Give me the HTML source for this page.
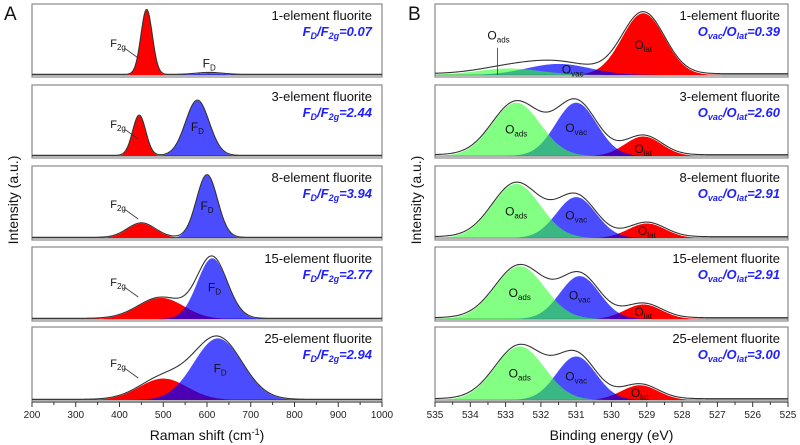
<!DOCTYPE html>
<html><head><meta charset="utf-8"><style>
html,body{margin:0;padding:0;background:#fff;}
svg{display:block;font-family:"Liberation Sans",Arial,sans-serif;}
</style></head><body>
<svg id="chart" width="800" height="445" viewBox="0 0 800 445" xmlns="http://www.w3.org/2000/svg"></svg>
<script>
// ---- Panel A data (Raman) ----
const ramanTicks = [200,300,400,500,600,700,800,900,1000];
const sampleNames = ["1-element fluorite","3-element fluorite","8-element fluorite","15-element fluorite","25-element fluorite"];
const fdRatios = ["0.07","2.44","3.94","2.77","2.94"];
const f2gCenters = [462,445,450,495,500];
const f2gWidths = [13,15,32,52,55];
const f2gAmps = [1.0,0.62,0.22,0.32,0.32];
const fdCenters = [605,578,600,612,625];
const fdWidths = [30,27,24,34,55];
const fdAmps = [0.03,0.85,0.95,0.92,0.92];
// ---- Panel B data (XPS) ----
const xpsTicks = [535,534,533,532,531,530,529,528,527,526,525];
const ovacRatios = ["0.39","2.60","2.91","2.91","3.00"];
const adsCenters = [532.9,532.7,532.7,532.6,532.6];
const adsWidths = [0.9,0.68,0.68,0.7,0.7];
const adsAmps = [0.1,0.82,0.82,0.8,0.8];
const vacCenters = [531.5,531.0,531.0,530.9,531.0];
const vacWidths = [0.9,0.58,0.56,0.56,0.56];
const vacAmps = [0.17,0.82,0.62,0.65,0.65];
const latCenters = [529.1,529.1,529.0,529.1,529.2];
const latWidths = [0.6,0.52,0.52,0.52,0.52];
const latAmps = [0.95,0.3,0.22,0.22,0.22];

const NS="http://www.w3.org/2000/svg";
const svg=document.getElementById('chart');
function mk(tag,attrs,parent){const e=document.createElementNS(NS,tag);for(const k in attrs)e.setAttribute(k,attrs[k]);(parent||svg).appendChild(e);return e;}
const tops=[4,85,166,247,327], bases=[75,156,238,319,400];
function gauss(x,c,s,a){return a*Math.exp(-0.5*((x-c)/s)**2);}
const A={x0:32,x1:382,d0:200,d1:1000};
const B={x0:435,x1:788,d0:535,d1:525};
function sx(P,v){return P.x0+(v-P.d0)/(P.d1-P.d0)*(P.x1-P.x0);}
function yv(i,v){return bases[i]-v*(bases[i]-tops[i]-6);}
function area(P,i,fn,fill,op,name){
  let d=`M${P.x0},${bases[i]}`;
  for(let px=P.x0;px<=P.x1;px+=1){const v=P.d0+(px-P.x0)/(P.x1-P.x0)*(P.d1-P.d0);d+=`L${px},${yv(i,fn(v)).toFixed(2)}`;}
  d+=`L${P.x1},${bases[i]}Z`;
  const p=mk('path',{d:d,fill:fill,'fill-opacity':op});
  
  
}
function line(P,i,fn,name){
  let d='';
  for(let px=P.x0;px<=P.x1;px+=1){const v=P.d0+(px-P.x0)/(P.x1-P.x0)*(P.d1-P.d0);d+=(d?'L':'M')+px+','+yv(i,fn(v)).toFixed(2);}
  const p=mk('path',{d:d,fill:'none',stroke:'#333','stroke-width':1.1});
  
  
}
function txt(x,y,s,attrs,name){const t=mk('text',Object.assign({x:x,y:y},attrs));t.innerHTML=s;return t;}
function box(P,i,name){const r=mk('rect',{x:P.x0,y:tops[i],width:P.x1-P.x0,height:bases[i]+2-tops[i],fill:'none',stroke:'#888','stroke-width':1.2});
 const l=mk('line',{x1:P.x0,x2:P.x1,y1:bases[i],y2:bases[i],stroke:'#666','stroke-width':1});}
function axis(P,ticks,title,name){
  const l=mk('line',{x1:P.x0,x2:P.x1,y1:402,y2:402,stroke:'#555','stroke-width':1.2});
  ticks.forEach((t,k)=>{const x=sx(P,t);mk('line',{x1:x,x2:x,y1:402,y2:407,stroke:'#333'});
    if(k<ticks.length-1){const xm=sx(P,(t+ticks[k+1])/2);mk('line',{x1:xm,x2:xm,y1:402,y2:405,stroke:'#333'});}
    txt(x,418,t,{'font-size':10,'text-anchor':'middle',fill:'#222'},name+'-tick-label');});
  txt((P.x0+P.x1)/2,440,title,{'font-size':14,'text-anchor':'middle',fill:'#111'},name+'-title');
}
// Panel A
txt(4,20,'A',{'font-size':19,fill:'#111'},'panel-a-label');
txt(18,200,'Intensity (a.u.)',{'font-size':14,'text-anchor':'middle',fill:'#111',transform:'rotate(-90 18 200)'},'y-axis-title-a');
for(let i=0;i<5;i++){
  box(A,i,'raman-panel-frame');
  const fr=v=>gauss(v,f2gCenters[i],f2gWidths[i],f2gAmps[i]);
  const fb=v=>gauss(v,fdCenters[i],fdWidths[i],fdAmps[i]);
  area(A,i,fr,'#ff0000',1,'f2g-peak');
  area(A,i,fb,'#0000ff',0.7,'fd-peak');
  line(A,i,v=>fr(v)+fb(v)+0.01,'envelope');
  txt(372,tops[i]+16,sampleNames[i],{'font-size':13,'text-anchor':'end',fill:'#111'},'sample-name');
  txt(372,tops[i]+32,'F<tspan font-size="9" dy="3">D</tspan><tspan dy="-3">/F</tspan><tspan font-size="9" dy="3">2g</tspan><tspan dy="-3">='+fdRatios[i]+'</tspan>',{'font-size':13,'text-anchor':'end',fill:'#2020ff','font-weight':'bold','font-style':'italic'},'fd-f2g-ratio');
  const fx=sx(A,420), fy=bases[i]-(i<2?20:i==2?22:25);
  txt(fx-18,fy-8,'F<tspan font-size="8" dy="3">2g</tspan>',{'font-size':11,fill:'#111'},'f2g-label');
  mk('line',{x1:fx-4,y1:fy-7,x2:fx+10,y2:fy+3,stroke:'#333','stroke-width':0.8});
  const dy=i==0?yv(i,0.1):yv(i,fdAmps[i]*0.45);
  txt(sx(A,fdCenters[i]+(i>2?5:0)),dy+ (i==0?-1:0),'F<tspan font-size="8" dy="3">D</tspan>',{'font-size':12,'text-anchor':'middle',fill:'#111'},'fd-label');
}
axis(A,ramanTicks,'Raman shift (cm<tspan font-size="9" dy="-5">-1</tspan><tspan dy="5">)</tspan>','x-axis-a');
// Panel B
txt(408,20,'B',{'font-size':19,fill:'#111'},'panel-b-label');
txt(421,200,'Intensity (a.u.)',{'font-size':14,'text-anchor':'middle',fill:'#111',transform:'rotate(-90 421 200)'},'y-axis-title-b');
for(let i=0;i<5;i++){
  box(B,i,'xps-panel-frame');
  const fa=v=>gauss(v,adsCenters[i],adsWidths[i],adsAmps[i]);
  const fv=v=>gauss(v,vacCenters[i],vacWidths[i],vacAmps[i]);
  const fl=v=>gauss(v,latCenters[i],latWidths[i],latAmps[i]);
  area(B,i,fl,'#ff0000',1,'olat-peak');
  area(B,i,fv,'#0000ff',0.7,'ovac-peak');
  area(B,i,fa,'#30ff30',0.6,'oads-peak');
  line(B,i,v=>fa(v)+fv(v)+fl(v)+0.02,'envelope');
  txt(780,tops[i]+16,sampleNames[i],{'font-size':13,'text-anchor':'end',fill:'#111'},'sample-name');
  txt(780,tops[i]+32,'O<tspan font-size="9" dy="3">vac</tspan><tspan dy="-3">/O</tspan><tspan font-size="9" dy="3">lat</tspan><tspan dy="-3">='+ovacRatios[i]+'</tspan>',{'font-size':13,'text-anchor':'end',fill:'#2020ff','font-weight':'bold','font-style':'italic'},'ovac-olat-ratio');
  const sub=(s,x,y,n)=>txt(x,y,'O<tspan font-size="8" dy="3">'+s+'</tspan>',{'font-size':12,'text-anchor':'middle',fill:'#111'},n);
  if(i==0){
    sub('ads',sx(B,533.2),yv(i,0.55),'oads-label');
    mk('line',{x1:sx(B,533.2)-1,y1:yv(i,0.42),x2:sx(B,533.2)-1,y2:bases[i],stroke:'#333','stroke-width':0.8});
    sub('vac',sx(B,531.1),yv(i,0.02),'ovac-label');
    sub('lat',sx(B,529.1),yv(i,0.4),'olat-label');
  } else {
    sub('ads',sx(B,adsCenters[i]),yv(i,adsAmps[i]*0.42),'oads-label');
    sub('vac',sx(B,vacCenters[i]),yv(i,vacAmps[i]*0.45),'ovac-label');
    sub('lat',sx(B,latCenters[i]),bases[i]-3,'olat-label');
  }
}
axis(B,xpsTicks,'Binding energy (eV)','x-axis-b');
</script>
</body></html>
